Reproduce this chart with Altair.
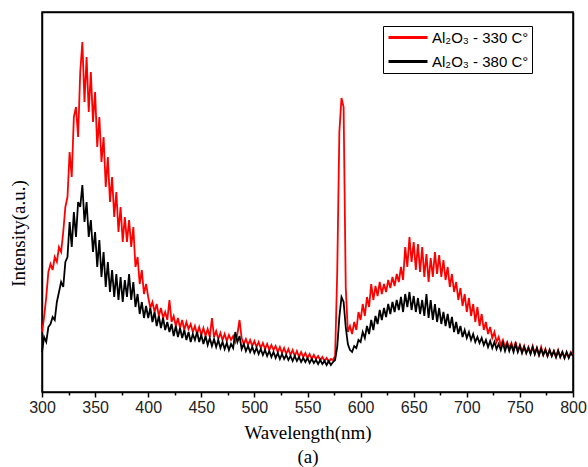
import altair as alt
import pandas as pd

# Wavelength grid (nm)
wavelength = list(range(300, 801, 2))

# Al2O3 - 330 C (red), intensity in arbitrary units
red_330 = [
    60, 75, 95, 120, 128, 122, 135, 130, 145, 140,      # 300-318
    160, 185, 195, 240, 215, 275, 285, 255, 320, 350,   # 320-338
    290, 335, 280, 320, 270, 300, 245, 275, 230, 255,   # 340-358
    205, 235, 190, 215, 175, 200, 160, 185, 150, 175,   # 360-378
    150, 172, 145, 165, 125, 135, 108, 122, 98, 108,    # 380-398
    95, 84, 90, 80, 88, 76, 84, 74, 80, 72,             # 400-418
    92, 70, 76, 66, 74, 64, 72, 62, 70, 63,             # 420-438
    68, 60, 66, 58, 65, 57, 64, 56, 63, 55,             # 440-458
    74, 55, 61, 53, 59, 52, 58, 51, 57, 52,             # 460-478
    56, 50, 58, 72, 54, 48, 53, 47, 52, 46,             # 480-498
    51, 45, 50, 44, 49, 43, 48, 42, 47, 42,             # 500-518
    46, 40, 45, 39, 44, 38, 43, 37, 42, 36,             # 520-538
    41, 35, 40, 35, 39, 34, 38, 33, 37, 33,             # 540-558
    36, 32, 35, 31, 34, 30, 33, 32, 36, 120,            # 560-578
    260, 294, 285, 105, 60, 66, 58, 70, 62, 80,         # 580-598
    72, 88, 76, 95, 85, 108, 92, 106, 96, 110,          # 600-618
    98, 108, 100, 112, 104, 115, 106, 118, 110, 125,    # 620-638
    112, 145, 125, 155, 130, 150, 122, 148, 120, 145,   # 640-658
    115, 138, 110, 134, 115, 140, 118, 137, 115, 132,   # 660-678
    112, 125, 105, 118, 100, 110, 92, 104, 86, 98,      # 680-698
    80, 94, 76, 88, 70, 85, 66, 78, 62, 70,             # 700-718
    58, 65, 54, 60, 50, 55, 47, 52, 45, 50,             # 720-738
    44, 49, 42, 50, 41, 47, 40, 46, 39, 45,             # 740-758
    39, 46, 38, 44, 37, 45, 37, 43, 36, 42,             # 760-778
    36, 41, 35, 42, 35, 40, 34, 39, 35, 40,             # 780-798
    36,                                                 # 800
]

# Al2O3 - 380 C (black)
black_380 = [
    40, 55, 50, 65, 68, 75, 72, 90, 100, 110,           # 300-318
    105, 130, 135, 170, 145, 180, 155, 190, 185, 207,   # 320-338
    170, 190, 155, 172, 140, 160, 125, 152, 115, 140,   # 340-358
    105, 130, 100, 122, 95, 118, 92, 115, 90, 112,      # 360-378
    95, 118, 92, 110, 85, 98, 78, 90, 74, 86,           # 380-398
    74, 84, 70, 80, 66, 76, 64, 74, 62, 70,             # 400-418
    60, 68, 56, 66, 55, 64, 54, 62, 52, 60,             # 420-438
    50, 58, 52, 60, 50, 57, 48, 56, 47, 54,             # 440-458
    46, 53, 45, 52, 44, 50, 43, 49, 42, 48,             # 460-478
    44, 60, 50, 56, 43, 48, 41, 46, 40, 45,             # 480-498
    39, 44, 38, 43, 37, 42, 36, 41, 35, 40,             # 500-518
    34, 39, 33, 38, 33, 37, 32, 36, 31, 36,             # 520-538
    31, 35, 30, 34, 30, 34, 29, 33, 29, 32,             # 540-558
    28, 32, 28, 31, 27, 31, 27, 30, 32, 45,             # 560-578
    75, 95, 90, 65, 48, 42, 40, 46, 44, 52,             # 580-598
    50, 60, 54, 66, 58, 72, 62, 76, 68, 82,             # 600-618
    72, 84, 75, 88, 78, 90, 80, 92, 82, 95,             # 620-638
    80, 98, 85, 100, 82, 96, 80, 94, 78, 92,            # 640-658
    76, 98, 74, 92, 72, 88, 70, 84, 68, 80,             # 660-678
    66, 78, 64, 75, 60, 70, 58, 66, 55, 62,             # 680-698
    54, 60, 52, 58, 50, 55, 49, 54, 47, 52,             # 700-718
    45, 51, 44, 50, 43, 48, 42, 49, 41, 48,             # 720-738
    41, 47, 40, 48, 40, 46, 39, 45, 39, 44,             # 740-758
    38, 45, 38, 44, 37, 43, 37, 42, 36, 42,             # 760-778
    36, 41, 35, 41, 35, 40, 34, 40, 34, 39,             # 780-798
    36,                                                 # 800
]

series_names = ["Al₂O₃ - 330 C°", "Al₂O₃ - 380 C°"]
series_colors = ["#ff0000", "#000000"]
major_ticks = list(range(300, 801, 50))
minor_ticks = list(range(325, 800, 50))

n = len(wavelength)
df = pd.DataFrame({
    "wavelength": wavelength * 2,
    "intensity": red_330 + black_380,
    "series": [series_names[0]] * n + [series_names[1]] * n,
})

x_scale = alt.Scale(domain=[300, 800], nice=False, zero=False)
y_scale = alt.Scale(domain=[0, 380], nice=False)

major_axis = alt.Axis(
    orient="bottom",
    values=major_ticks,
    ticks=True,
    tickSize=5,
    tickColor="black",
    tickWidth=1.5,
    tickOpacity=1,
    domainColor="black",
    domainWidth=1.5,
    grid=False,
    labelFlush=False,
    labelFont="Liberation Sans",
    labelFontSize=16,
    labelColor="#222222",
    labelPadding=2,
    title=["Wavelength(nm)", "(a)"],
    titleFont="Liberation Serif",
    titleFontSize=19,
    titleFontWeight="normal",
    titleColor="black",
    titleLineHeight=24,
    titlePadding=8,
)

minor_axis = alt.Axis(
    orient="bottom",
    values=minor_ticks,
    ticks=True,
    tickSize=3,
    tickColor="black",
    tickWidth=1.5,
    tickOpacity=1,
    domain=False,
    labels=False,
    grid=False,
    title=None,
)

top_axis = alt.Axis(
    orient="top", ticks=False, labels=False, grid=False, title=None,
    domain=True, domainColor="black", domainWidth=1.5,
)

left_axis = alt.Axis(
    orient="left",
    ticks=False,
    labels=False,
    grid=False,
    domainColor="black",
    domainWidth=1.5,
    title="Intensity(a.u.)",
    titleFont="Liberation Serif",
    titleFontSize=19,
    titleFontWeight="normal",
    titleColor="black",
    titleX=-24,
    titleY=221,
    titleBaseline="middle",
    titleAlign="center",
)

right_axis = alt.Axis(
    orient="right", ticks=False, labels=False, grid=False, title=None,
    domain=True, domainColor="black", domainWidth=1.5,
)

color_enc = alt.Color(
    "series:N",
    scale=alt.Scale(domain=series_names, range=series_colors),
    legend=alt.Legend(
        orient="none",
        legendX=341,
        legendY=14,
        title=None,
        strokeColor="black",
        padding=3.5,
        rowPadding=8,
        symbolType="M-3,0H3",
        symbolStrokeWidth=3,
        symbolSize=169,
        symbolOffset=13.5,
        labelFont="Liberation Sans",
        labelFontSize=15,
        labelColor="black",
        labelOffset=16,
    ),
)

base = alt.Chart(df).mark_line(strokeWidth=1.8)

red_layer = base.encode(
    x=alt.X("wavelength:Q", scale=x_scale, axis=major_axis),
    y=alt.Y("intensity:Q", scale=y_scale, axis=left_axis),
    color=color_enc,
).transform_filter(alt.datum.series == series_names[0])

black_layer = base.encode(
    x=alt.X("wavelength:Q", scale=x_scale, axis=minor_axis),
    y=alt.Y("intensity:Q", scale=y_scale, axis=right_axis),
    color=color_enc,
).transform_filter(alt.datum.series == series_names[1])

frame_layer = base.mark_line(strokeOpacity=0).encode(
    x=alt.X("wavelength:Q", scale=x_scale, axis=top_axis),
    y=alt.Y("intensity:Q", scale=y_scale, axis=None),
).transform_filter(alt.datum.series == series_names[1])

chart = (
    alt.layer(red_layer, black_layer, frame_layer)
    .resolve_axis(x="independent", y="independent")
    .properties(
        width=531,
        height=380,
        autosize=alt.AutoSizeParams(type="none"),
        padding={"left": 42, "top": 12, "right": 15, "bottom": 75},
    )
    .configure(
        background="white",
        view=alt.ViewConfig(stroke="black", strokeWidth=1.5),
    )
)

chart.save("out.html", embed_options={"renderer": "svg", "actions": False})
